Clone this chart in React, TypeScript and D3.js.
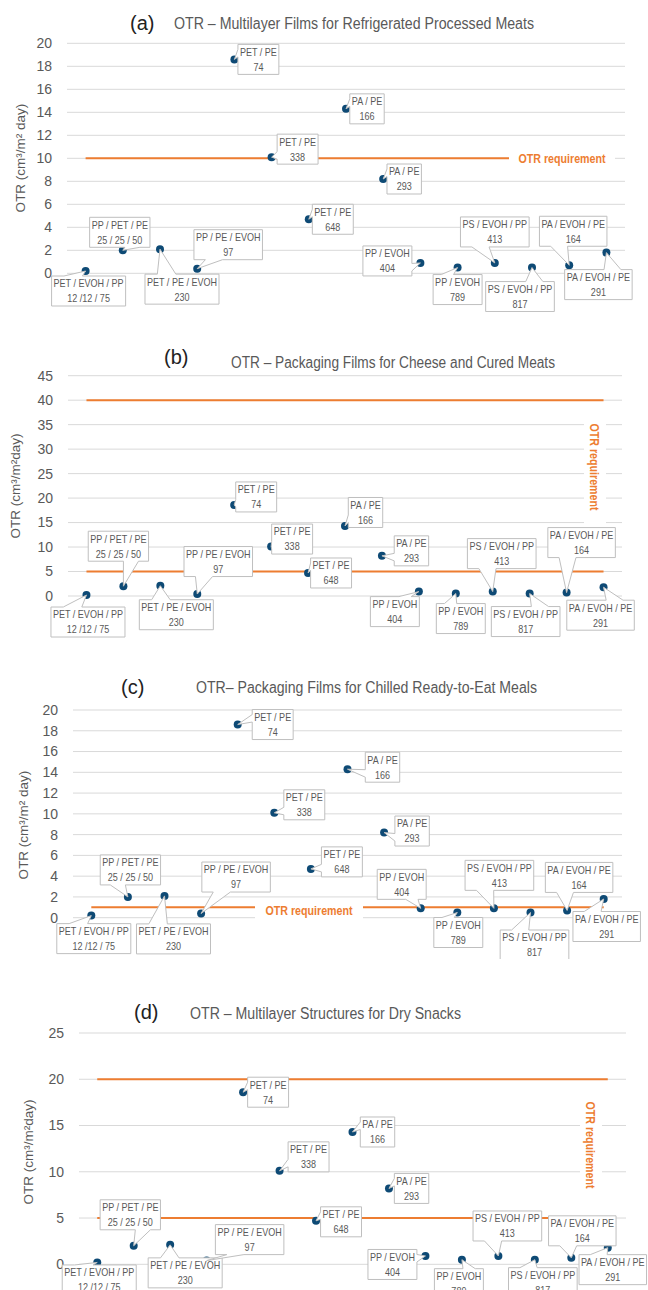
import { useEffect, useRef } from "react";
import * as d3 from "d3";

// ---- data ----
const structures = [
  "PET / EVOH / PP", "PP / PET / PE", "PET / PE / EVOH", "PP / PE / EVOH",
  "PET / PE", "PET / PE", "PET / PE", "PA / PE", "PA / PE",
  "PP / EVOH", "PP / EVOH", "PS / EVOH / PP", "PS / EVOH / PP",
  "PA / EVOH / PE", "PA / EVOH / PE",
];
const thicknesses = [
  "12 /12 / 75", "25 / 25 / 50", "230", "97", "74", "338", "648", "166",
  "293", "404", "789", "413", "817", "164", "291",
];
const otrValues = [0.2, 2.0, 2.1, 0.4, 18.6, 10.1, 4.7, 14.3, 8.2, 0.9, 0.5, 0.9, 0.5, 0.7, 1.8];

const panelTags = ["(a)", "(b)", "(c)", "(d)"];
const panelTitles = [
  "OTR – Multilayer Films for Refrigerated Processed Meats",
  "OTR – Packaging Films for Cheese and Cured Meats",
  "OTR– Packaging Films for Chilled Ready-to-Eat Meals",
  "OTR – Multilayer Structures for Dry Snacks",
];
const yAxisTitles = ["OTR (cm³/m² day)", "OTR (cm³/m²day)", "OTR (cm³/m² day)", "OTR (cm³/m²day)"];
const yMaxes = [20, 45, 20, 25];
const ySteps = [2, 5, 2, 5];
const requirements = [[10], [40, 5], [1], [20, 5]];
const requirementLabel = "OTR requirement";

// ---- layout (pixels) ----
const panels = [
  { clipTop: 0, clipBottom: 312, left: 67, right: 625, yBottom: 273.3, yTop: 43.3, tickRight: 52,
    tagX: 130, tagY: 23, titleX: 174, titleW: 360, titleY: 23, ylabX: 20, ylabY: 158,
    req: { x: 562, y: 158, bgW: 106, bgH: 18, vertical: false } },
  { clipTop: 312, clipBottom: 640, left: 68, right: 622, yBottom: 596, yTop: 375.7, tickRight: 53,
    tagX: 164, tagY: 357, titleX: 231, titleW: 324, titleY: 362, ylabX: 15, ylabY: 486,
    req: { x: 595, y: 467, bgW: 22, bgH: 120, vertical: true } },
  { clipTop: 640, clipBottom: 959, left: 73, right: 622, yBottom: 917.7, yTop: 710, tickRight: 58,
    tagX: 121, tagY: 687, titleX: 196, titleW: 341, titleY: 687, ylabX: 23, ylabY: 825,
    req: { x: 309, y: 910, bgW: 108, bgH: 18, vertical: false } },
  { clipTop: 960, clipBottom: 1290, left: 79, right: 626, yBottom: 1264.3, yTop: 1033, tickRight: 64,
    tagX: 134, tagY: 1012, titleX: 190, titleW: 271, titleY: 1013, ylabX: 28, ylabY: 1152,
    req: { x: 591, y: 1145, bgW: 22, bgH: 116, vertical: true } },
];

// callout box centre offsets from each point, per panel
const labelOffsets = [
  [[3, 20], [-3, -18], [22, 40], [31, -24], [24, 0], [26, -8], [24, 0], [21, 0], [21, 0], [-33, -2], [0, 22], [0, -31], [-12, 29], [4, -34], [-8, 32]],
  [[1.5, 27], [-5, -40], [16, 29], [21, -32.5], [22, -8], [21, -7.5], [23, 0], [20.5, -13.5], [29.5, -5], [-24, 20], [5, 25], [9, -38], [-4, 28], [15, -50], [-3, 28]],
  [[2.5, 23], [2.5, -27], [9, 43], [35, -36.5], [35, 0], [30, -8], [31, -7], [35, -2], [28, -1.5], [-19, -24], [1, 20], [5.5, -33], [4, 32.5], [12, -33], [3, 27.5]],
  [[2, 17.5], [-3.4, -31], [15, 28], [43, -21], [25, 0], [29, -14], [25, 1], [25, 0], [22.6, 0], [-33, 8.5], [-3, 24], [9, -30], [8, 23], [11, -27], [5, 22]],
];

const GREY = "#595959";
const GRID = "#D9D9D9";
const ORANGE = "#ED7D31";
const DOT = "#0E4A75";
const SANS = "'Liberation Sans', Arial, sans-serif";
const NARROW_FACTOR = 0.82;

function calloutPath(x0: number, y0: number, w: number, h: number, px: number, py: number) {
  const x1 = x0 + w, y1 = y0 + h;
  const dx = px - (x0 + w / 2), dy = py - (y0 + h / 2);
  const inside = Math.abs(dx) <= w / 2 && Math.abs(dy) <= h / 2;
  const side = inside ? "none"
    : Math.abs(dy) / h > Math.abs(dx) / w ? (dy < 0 ? "top" : "bottom") : (dx < 0 ? "left" : "right");
  const xa = x0 + (w * (dx > 0 ? 7 : 2)) / 12, xb = x0 + (w * (dx > 0 ? 10 : 5)) / 12;
  const ya = y0 + (h * (dy > 0 ? 7 : 2)) / 12, yb = y0 + (h * (dy > 0 ? 10 : 5)) / 12;
  const pts: number[][] = [[x0, y0]];
  if (side === "top") pts.push([xa, y0], [px, py], [xb, y0]);
  pts.push([x1, y0]);
  if (side === "right") pts.push([x1, ya], [px, py], [x1, yb]);
  pts.push([x1, y1]);
  if (side === "bottom") pts.push([xb, y1], [px, py], [xa, y1]);
  pts.push([x0, y1]);
  if (side === "left") pts.push([x0, yb], [px, py], [x0, ya]);
  return "M" + pts.map((p) => p.join(",")).join("L") + "Z";
}

// squeeze a text to look like a narrow face; returns new width
function narrow(sel: any) {
  const len = sel.node().getComputedTextLength() * NARROW_FACTOR;
  sel.attr("textLength", len).attr("lengthAdjust", "spacingAndGlyphs");
  return len;
}

export default function App() {
  const svgRef = useRef<SVGSVGElement>(null);

  useEffect(() => {
    const svg = d3.select(svgRef.current);
    svg.selectAll("*").remove();
    const defs = svg.append("defs");

    panels.forEach((p, pi) => {
      defs.append("clipPath").attr("id", `clip${pi}`)
        .append("rect").attr("x", 0).attr("y", p.clipTop).attr("width", 648).attr("height", p.clipBottom - p.clipTop);
      const g = svg.append("g").attr("clip-path", `url(#clip${pi})`);

      const x = d3.scaleLinear().domain([0.5, 15.5]).range([p.left, p.right]);
      const y = d3.scaleLinear().domain([0, yMaxes[pi]]).range([p.yBottom, p.yTop]);
      const ticks = d3.range(0, yMaxes[pi] + 0.01, ySteps[pi]);

      // title
      g.append("text").attr("x", p.tagX).attr("y", p.tagY).attr("dy", "0.35em")
        .attr("font-family", SANS).attr("font-size", 20).attr("fill", "#222").text(panelTags[pi]);
      g.append("text").attr("x", p.titleX).attr("y", p.titleY).attr("dy", "0.35em")
        .attr("font-family", SANS).attr("font-size", 16).attr("fill", GREY)
        .attr("textLength", p.titleW).attr("lengthAdjust", "spacingAndGlyphs").text(panelTitles[pi]);

      // grid + ticks
      g.selectAll(".grid").data(ticks).enter().append("line")
        .attr("x1", p.left).attr("x2", p.right)
        .attr("y1", (d) => y(d)).attr("y2", (d) => y(d))
        .attr("stroke", GRID).attr("stroke-width", 1);
      g.selectAll(".tick").data(ticks).enter().append("text")
        .attr("x", p.tickRight).attr("y", (d) => y(d)).attr("dy", "0.35em")
        .attr("text-anchor", "end").attr("font-family", SANS).attr("font-size", 14)
        .attr("fill", GREY).text((d) => d3.format("d")(d));

      g.append("text")
        .attr("transform", `translate(${p.ylabX},${p.ylabY}) rotate(-90)`)
        .attr("dy", "0.35em").attr("text-anchor", "middle")
        .attr("font-family", SANS).attr("font-size", 13.5).attr("fill", GREY)
        .text(yAxisTitles[pi]);

      // requirement lines
      requirements[pi].forEach((r) => {
        g.append("line").attr("x1", x(1)).attr("x2", x(15))
          .attr("y1", y(r)).attr("y2", y(r))
          .attr("stroke", ORANGE).attr("stroke-width", 2);
      });
      const rq = p.req;
      g.append("rect").attr("x", rq.x - rq.bgW / 2).attr("y", rq.y - rq.bgH / 2)
        .attr("width", rq.bgW).attr("height", rq.bgH).attr("fill", "#fff");
      const rqText = g.append("text")
        .attr("transform", `translate(${rq.x},${rq.y})${rq.vertical ? " rotate(90)" : ""}`)
        .attr("dy", "0.35em").attr("text-anchor", "middle")
        .attr("font-family", SANS).attr("font-size", 13).attr("font-weight", "bold")
        .attr("fill", ORANGE).text(requirementLabel);
      narrow(rqText);

      // points
      g.selectAll(".dot").data(otrValues).enter().append("circle")
        .attr("cx", (d, i) => x(i + 1)).attr("cy", (d) => y(d)).attr("r", 4).attr("fill", DOT);

      // callouts
      otrValues.forEach((v, i) => {
        const px = x(i + 1), py = y(v);
        const cx = px + labelOffsets[pi][i][0], cy = py + labelOffsets[pi][i][1];
        const lg = g.append("g");
        const path = lg.append("path");
        const t1 = lg.append("text").attr("x", cx).attr("y", cy - 7.5).attr("dy", "0.35em")
          .attr("text-anchor", "middle").attr("font-family", SANS).attr("font-size", 11)
          .attr("fill", GREY).text(structures[i]);
        const t2 = lg.append("text").attr("x", cx).attr("y", cy + 7.5).attr("dy", "0.35em")
          .attr("text-anchor", "middle").attr("font-family", SANS).attr("font-size", 11)
          .attr("fill", GREY).text(thicknesses[i]);
        const tw = Math.max(narrow(t1), narrow(t2));
        const w = tw + 4, h = 30;
        path.attr("d", calloutPath(cx - w / 2, cy - h / 2, w, h, px, py))
          .attr("fill", "#fff").attr("stroke", "#BFBFBF").attr("stroke-width", 1);
      });
    });
  }, []);

  return (
    <svg ref={svgRef} width={648} height={1290}
      style={{ position: "absolute", left: 0, top: 0, background: "#fff" }} />
  );
}
